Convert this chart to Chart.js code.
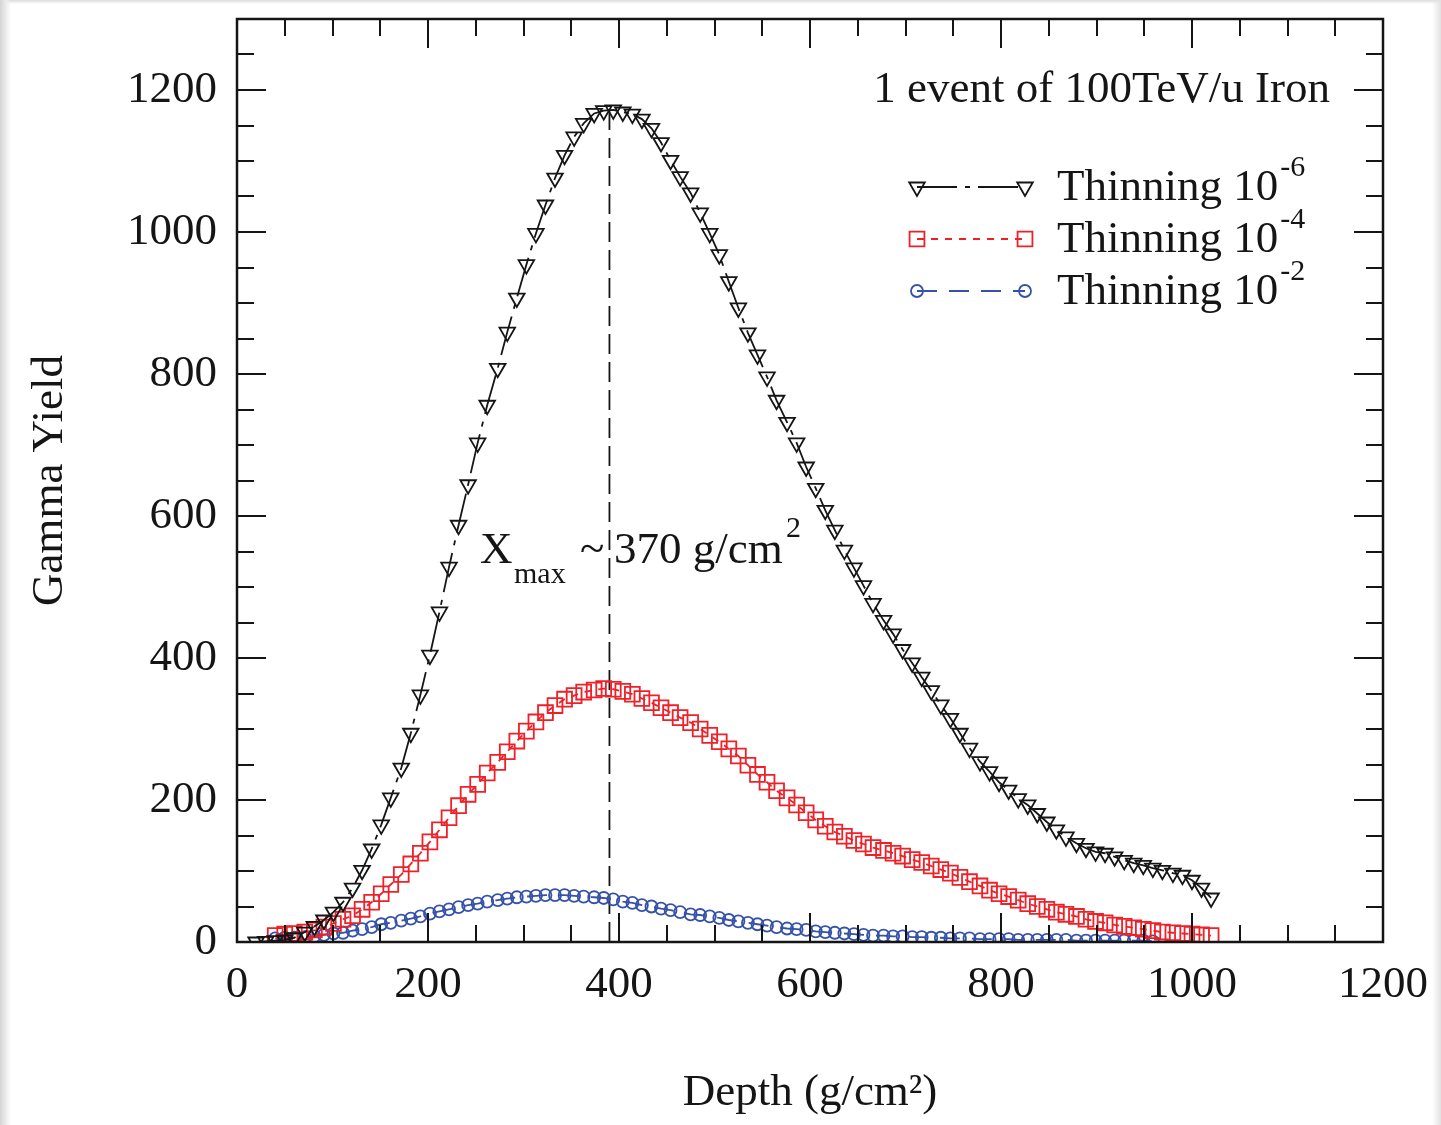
<!DOCTYPE html>
<html>
<head>
<meta charset="utf-8">
<title>Gamma Yield vs Depth</title>
<script src="https://cdn.jsdelivr.net/npm/chart.js@4.4.1/dist/chart.umd.min.js"></script>
<style>
  html, body { margin: 0; padding: 0; background: #fff; }
  #wrap {
    width: 1441px; height: 1125px; position: relative;
    background:
      linear-gradient(to right, #d4d4d4 0, #ececec 6px, rgba(255,255,255,0) 11px),
      linear-gradient(to left, #e2e2e2 0, rgba(255,255,255,0) 9px),
      linear-gradient(to bottom, #dcdcdc 0, rgba(255,255,255,0) 4px),
      #fff;
  }
</style>
</head>
<body>
<div id="wrap"><canvas id="chart"></canvas></div>
<script>
// depth of each bin (g/cm2)
const depth = [20, 30, 40, 50, 60, 71, 81, 91, 101, 111,
  121, 131, 141, 151, 161, 172, 182, 192, 202, 212,
  222, 232, 242, 252, 262, 273, 283, 293, 303, 313,
  323, 333, 343, 353, 363, 374, 384, 394, 404, 414,
  424, 434, 444, 454, 464, 475, 485, 495, 505, 515,
  525, 535, 545, 555, 565, 576, 586, 596, 606, 616,
  626, 636, 646, 656, 666, 677, 687, 697, 707, 717,
  727, 737, 747, 757, 767, 778, 788, 798, 808, 818,
  828, 838, 848, 858, 868, 879, 889, 899, 909, 919,
  929, 939, 949, 959, 969, 980, 990, 1000, 1010, 1020];

// gamma yield, thinning 1e-6
const thin6 = [0, 1, 2, 3, 6, 14, 22, 31, 42, 56,
  76, 101, 131, 165, 203, 245, 294, 348, 404, 465,
  528, 587, 644, 703, 756, 808, 859, 907, 954, 998,
  1038, 1076, 1108, 1134, 1153, 1167, 1171, 1172, 1169, 1166,
  1159, 1146, 1126, 1101, 1078, 1055, 1027, 998, 968, 930,
  893, 858, 827, 796, 763, 732, 703, 669, 639, 608,
  580, 552, 527, 502, 477, 453, 434, 412, 393, 373,
  354, 334, 315, 294, 273, 254, 240, 225, 214, 202,
  193, 181, 169, 158, 148, 139, 132, 127, 125, 120,
  115, 111, 108, 104, 101, 97, 94, 87, 76, 62];

// thinning 1e-4
const thin4 = [null, null, 9, 11, 12, 14, 17, 21, 26, 32,
  37, 46, 56, 68, 81, 95, 110, 125, 141, 158,
  175, 192, 208, 222, 238, 253, 268, 283, 297, 310,
  323, 333, 342, 347, 352, 355, 357, 356, 353, 349,
  343, 337, 330, 323, 316, 309, 300, 291, 282, 272,
  262, 249, 236, 225, 213, 203, 193, 182, 172, 163,
  155, 149, 143, 138, 133, 129, 125, 121, 116, 112,
  107, 102, 97, 91, 85, 79, 73, 68, 64, 59,
  54, 50, 46, 42, 39, 36, 32, 29, 27, 24,
  22, 20, 18, 16, 14, 13, 12, 11, 10, 9];

// thinning 1e-2
const thin2 = [null, null, 5, 6, 6, 7, 8, 10, 12, 13,
  16, 18, 21, 25, 27, 30, 33, 36, 40, 43,
  46, 49, 52, 54, 57, 59, 61, 63, 64, 65,
  66, 66, 66, 65, 64, 63, 62, 60, 57, 55,
  52, 50, 47, 45, 42, 39, 38, 36, 34, 31,
  29, 27, 25, 23, 21, 19, 18, 17, 15, 14,
  13, 12, 11, 10, 9, 9, 8, 8, 7, 7,
  6, 6, 5, 5, 5, 4, 4, 4, 4, 3,
  3, 3, 3, 3, 3, 2, 2, 2, 2, 2,
  2, 2, 2, 1, null, null, null, null, null, null];

const xTicks = [0, 200, 400, 600, 800, 1000, 1200];
const yTicks = [0, 200, 400, 600, 800, 1000, 1200];
const xmaxLine = [390, 1172]; // depth, top of the marker line

const SERIF = 'Liberation Serif, Times New Roman, serif';
const BLACK = '#151515';
const RED = '#ee2128';
const BLUE = '#3652a8';

function pts(vals) {
    const out = [];
    for (let i = 0; i < depth.length; i++) {
        if (vals[i] !== null) out.push({x: depth[i], y: vals[i]});
    }
    return out;
}

const series = [
    {sup: '-6', color: BLACK, dash: [40, 8, 5, 8], style: 'triangle', rot: 180, r: 9},
    {sup: '-4', color: RED, dash: [7, 7], style: 'rect', rot: 0, r: 10.5},
    {sup: '-2', color: BLUE, dash: [20, 12], style: 'circle', rot: 0, r: 6}
];
const values = [thin6, thin4, thin2];

// inward ticks on all four sides + frame
const frameTicks = {
    id: 'frameTicks',
    afterDatasetsDraw(chart) {
        const ctx = chart.ctx;
        const a = chart.chartArea;
        const xs = chart.scales.x, ys = chart.scales.y;
        ctx.save();
        ctx.strokeStyle = BLACK;
        ctx.lineWidth = 2;
        ctx.beginPath();
        for (let v = 0; v <= 1200; v += 50) {
            const px = Math.round(xs.getPixelForValue(v));
            const len = v % 200 === 0 ? 29 : 17;
            ctx.moveTo(px, a.bottom); ctx.lineTo(px, a.bottom - len);
            ctx.moveTo(px, a.top); ctx.lineTo(px, a.top + len);
        }
        for (let v = 0; v <= 1300; v += 50) {
            const py = Math.round(ys.getPixelForValue(v));
            const len = v % 200 === 0 ? 29 : 17;
            ctx.moveTo(a.left, py); ctx.lineTo(a.left + len, py);
            ctx.moveTo(a.right, py); ctx.lineTo(a.right - len, py);
        }
        ctx.stroke();
        ctx.lineWidth = 2.5;
        ctx.strokeRect(a.left, a.top, a.right - a.left, a.bottom - a.top);
        ctx.restore();
    }
};

// legend and annotation text
const labels = {
    id: 'labels',
    afterDraw(chart) {
        const ctx = chart.ctx;
        ctx.save();
        ctx.fillStyle = BLACK;
        ctx.textBaseline = 'alphabetic';

        ctx.font = '45px ' + SERIF;
        ctx.textAlign = 'right';
        ctx.fillText('1 event of 100TeV/u Iron', 1330, 102);
        ctx.textAlign = 'left';

        // legend
        const x1 = 917, x2 = 1025;
        series.forEach((s, i) => {
            const ly = 187 + i * 52;
            ctx.strokeStyle = s.color;
            ctx.lineWidth = 1.8;
            ctx.setLineDash(s.dash);
            ctx.beginPath();
            ctx.moveTo(x1, ly); ctx.lineTo(x2, ly);
            ctx.stroke();
            ctx.setLineDash([]);
            ctx.fillStyle = 'rgba(0,0,0,0)';
            const opt = {pointStyle: s.style, rotation: s.rot, radius: s.r, borderWidth: 1.8};
            Chart.helpers.drawPoint(ctx, opt, x1, ly);
            Chart.helpers.drawPoint(ctx, opt, x2, ly);

            ctx.fillStyle = BLACK;
            ctx.font = '45px ' + SERIF;
            const base = 'Thinning 10';
            ctx.fillText(base, 1057, ly + 13);
            const w = ctx.measureText(base).width;
            ctx.font = '30px ' + SERIF;
            ctx.fillText(s.sup, 1057 + w + 2, ly - 11);
        });

        // Xmax annotation
        ctx.font = '45px ' + SERIF;
        ctx.fillText('X', 480, 563);
        ctx.fillText('~', 580, 563);
        ctx.fillText('370 g/cm', 614, 563);
        ctx.font = '30px ' + SERIF;
        ctx.fillText('max', 514, 583);
        ctx.fillText('2', 786, 537);
        ctx.restore();
    }
};

const datasets = series.map((s, i) => ({
    label: 'Thinning 10' + s.sup,
    data: pts(values[i]),
    showLine: true,
    borderColor: s.color,
    borderWidth: 1.8,
    borderDash: s.dash,
    pointStyle: s.style,
    pointRotation: s.rot,
    pointRadius: s.r,
    pointBorderWidth: 1.8,
    pointBorderColor: s.color,
    pointBackgroundColor: 'rgba(0,0,0,0)',
    tension: 0,
    fill: false
}));

datasets.push({
    label: 'Xmax',
    data: [{x: xmaxLine[0], y: 0}, {x: xmaxLine[0], y: xmaxLine[1]}],
    showLine: true,
    borderColor: BLACK,
    borderWidth: 1.8,
    borderDash: [20, 8],
    pointRadius: 0,
    fill: false
});

Chart.defaults.color = BLACK;

new Chart(document.getElementById('chart').getContext('2d'), {
    type: 'scatter',
    data: {datasets: datasets},
    options: {
        responsive: true,
        maintainAspectRatio: false,
        animation: false,
        devicePixelRatio: 1,
        layout: {padding: {left: 0, right: 58, top: 19, bottom: 0}},
        plugins: {
            legend: {display: false},
            tooltip: {enabled: false}
        },
        scales: {
            x: {
                type: 'linear',
                min: 0,
                max: 1200,
                grid: {display: false, drawTicks: false},
                border: {display: false},
                afterBuildTicks: s => { s.ticks = xTicks.map(v => ({value: v})); },
                afterFit: s => { s.height = 183; s.paddingLeft = 0; s.paddingRight = 0; },
                ticks: {
                    font: {family: SERIF, size: 45}, padding: 16, maxRotation: 0, color: BLACK,
                    callback: v => String(v)
                },
                title: {
                    display: true,
                    text: 'Depth (g/cm\u00b2)',
                    font: {family: SERIF, size: 45},
                    color: BLACK,
                    padding: {top: 0, bottom: 5}
                }
            },
            y: {
                type: 'linear',
                min: 0,
                max: 1300,
                grid: {display: false, drawTicks: false},
                border: {display: false},
                afterBuildTicks: s => { s.ticks = yTicks.map(v => ({value: v})); },
                afterFit: s => { s.width = 237; s.paddingTop = 0; s.paddingBottom = 0; },
                ticks: {
                    font: {family: SERIF, size: 45}, padding: 20, color: BLACK,
                    callback: v => String(v)
                },
                title: {
                    display: true,
                    text: 'Gamma Yield',
                    font: {family: SERIF, size: 45},
                    color: BLACK,
                    padding: {top: 23, bottom: 0}
                }
            }
        }
    },
    plugins: [frameTicks, labels]
});
</script>
</body>
</html>
